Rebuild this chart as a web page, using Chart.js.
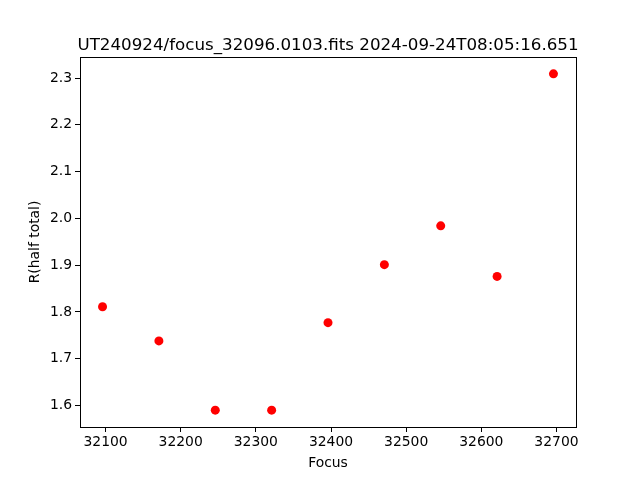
<!DOCTYPE html>
<html>
<head>
<meta charset="utf-8">
<script src="https://cdn.jsdelivr.net/npm/chart.js@4"></script>
<style>
  html, body { margin: 0; padding: 0; background: #fff; }
  #wrap { width: 640px; height: 480px; }
</style>
</head>
<body>
<div id="wrap"><canvas id="grafica" width="640" height="480"></canvas></div>
<script>
// datos
var titulo = 'UT240924/focus_32096.0103.fits 2024-09-24T08:05:16.651';
var focos = [32096, 32171, 32246, 32321, 32396, 32471, 32546, 32621, 32696];
var radios = [1.811, 1.738, 1.590, 1.590, 1.777, 1.901, 1.984, 1.876, 2.309];
var ticksX = [32100, 32200, 32300, 32400, 32500, 32600, 32700];
var ticksY = [1.6, 1.7, 1.8, 1.9, 2.0, 2.1, 2.2, 2.3];

var fuente = "'DejaVu Sans', sans-serif";

// marco completo y titulo como en matplotlib
var marco = {
    id: 'marco',
    afterDraw: function(chart) {
        var ctx = chart.ctx, a = chart.chartArea;
        ctx.save();
        ctx.strokeStyle = '#000';
        ctx.lineWidth = 1;
        ctx.strokeRect(a.left + 0.5, a.top + 0.5, a.right - a.left, a.bottom - a.top);
        ctx.fillStyle = '#000';
        ctx.font = '16.7px ' + fuente;
        ctx.textAlign = 'center';
        ctx.textBaseline = 'alphabetic';
        ctx.fillText(titulo, (a.left + a.right) / 2, a.top - 7);
        ctx.restore();
    }
};

var ctx = document.getElementById('grafica').getContext('2d');
var myChart = new Chart(ctx, {
    type: 'scatter',
    data: {
        datasets: [{
            label: 'R(half total)',
            data: focos.map(function(f, i) { return {x: f, y: radios[i]}; }),
            backgroundColor: '#ff0000',
            borderColor: '#ff0000',
            pointRadius: 4.5,
            pointHoverRadius: 4.5,
            borderWidth: 0
        }]
    },
    options: {
        responsive: false,
        animation: false,
        layout: { padding: { top: 57, right: 64, left: 0, bottom: 0 } },
        plugins: {
            legend: { display: false },
            tooltip: { enabled: false }
        },
        scales: {
            x: {
                type: 'linear',
                min: 32066,
                max: 32726,
                afterFit: function(s) { s.height = 53; },
                afterBuildTicks: function(s) { s.ticks = ticksX.map(function(v) { return {value: v}; }); },
                ticks: {
                    color: '#000',
                    font: { family: fuente, size: 13.9 },
                    padding: 2,
                    maxRotation: 0,
                    callback: function(v) { return String(v); }
                },
                grid: { drawOnChartArea: false, drawTicks: true, tickLength: 5, color: '#000' },
                border: { display: true, color: '#000' },
                title: { display: true, text: 'Focus', color: '#000', font: { family: fuente, size: 13.9 }, padding: { top: 2, bottom: 8 } }
            },
            y: {
                type: 'linear',
                min: 1.554,
                max: 2.345,
                afterFit: function(s) { s.width = 80; },
                afterBuildTicks: function(s) { s.ticks = ticksY.map(function(v) { return {value: v}; }); },
                ticks: {
                    color: '#000',
                    font: { family: fuente, size: 13.9 },
                    padding: 3,
                    callback: function(v) { return v.toFixed(1); }
                },
                grid: { drawOnChartArea: false, drawTicks: true, tickLength: 5, color: '#000' },
                border: { display: true, color: '#000' },
                title: { display: true, text: 'R(half total)', color: '#000', font: { family: fuente, size: 13.9 }, padding: { top: 27, bottom: 0 } }
            }
        }
    },
    plugins: [marco]
});
</script>
</body>
</html>
